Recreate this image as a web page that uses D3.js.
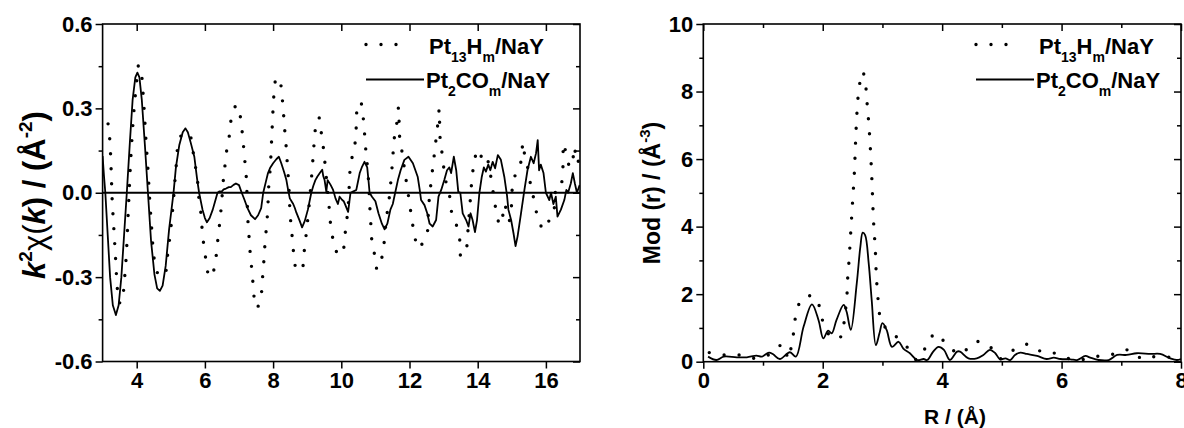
<!DOCTYPE html>
<html lang="en">
<head>
<meta charset="UTF-8">
<title>Pt13Hm/NaY vs Pt2COm/NaY EXAFS</title>
<script src="https://d3js.org/d3.v7.min.js"></script>
<style>
  body { margin: 0; background: #fff; }
  svg text { font-family: "Liberation Sans", Arial, sans-serif; font-weight: bold; fill: #000; }
</style>
</head>
<body>
<svg id="chart" width="1184" height="428"></svg>
<script>
// ---- left panel: k^2 chi(k) ----
const kPt13 = [3.16,3.21,3.25,3.28,3.33,3.38,3.43,3.48,3.58,3.62,3.69,3.75,3.81,3.86,3.92,4.0,4.04,4.12,4.16,4.22,4.27,4.33,4.38,4.44,4.51,4.61,4.73,4.85,4.9,5.0,5.08,5.15,5.25,5.4,5.55,5.64,5.71,5.78,5.81,5.88,5.94,6.0,6.05,6.14,6.3,6.34,6.39,6.44,6.48,6.55,6.6,6.65,6.73,6.78,6.93,7.04,7.09,7.13,7.17,7.21,7.23,7.26,7.29,7.32,7.36,7.4,7.43,7.51,7.64,7.67,7.71,7.74,7.77,7.81,7.84,7.86,7.88,7.92,7.94,7.96,7.98,8.0,8.03,8.1,8.2,8.26,8.3,8.33,8.37,8.4,8.43,8.46,8.5,8.54,8.58,8.62,8.7,8.84,8.9,9.0,9.12,9.22,9.27,9.34,9.41,9.47,9.64,9.73,9.83,9.89,10.04,10.1,10.2,10.28,10.38,10.45,10.47,10.56,10.64,10.71,10.79,10.86,10.93,10.99,11.05,11.14,11.23,11.32,11.41,11.49,11.56,11.62,11.68,11.71,11.78,11.88,12.01,12.07,12.15,12.24,12.31,12.49,12.56,12.6,12.65,12.7,12.75,12.8,12.85,12.87,12.9,12.96,13.05,13.2,13.25,13.39,13.48,13.51,13.67,13.71,13.78,13.85,13.92,13.98,14.1,14.22,14.35,14.47,14.55,14.65,14.72,14.8,14.86,14.92,14.98,15.05,15.15,15.25,15.33,15.37,15.45,15.55,15.61,15.7,15.8,15.9,16.02,16.12,16.22,16.32,16.42,16.49,16.52,16.59,16.63,16.7,16.78,16.83,16.88,16.93,16.98];
const chiPt13 = [0.245,0.19,0.084,-0.023,-0.128,-0.232,-0.338,-0.39,-0.39,-0.338,-0.232,-0.075,0.084,0.19,0.294,0.397,0.45,0.45,0.397,0.294,0.19,0.084,-0.023,-0.128,-0.232,-0.285,-0.3,-0.281,-0.228,-0.128,-0.023,0.084,0.19,0.215,0.207,0.155,0.102,0.049,-0.005,-0.07,-0.16,-0.21,-0.26,-0.302,-0.26,-0.21,-0.155,-0.1,-0.05,0.057,0.108,0.16,0.213,0.267,0.312,0.27,0.22,0.17,0.115,0.062,0.01,-0.095,-0.148,-0.202,-0.254,-0.306,-0.358,-0.41,-0.38,-0.33,-0.275,-0.222,-0.168,-0.117,-0.065,-0.012,0.04,0.092,0.144,0.197,0.249,0.3,0.355,0.41,0.396,0.344,0.292,0.238,0.185,0.134,0.08,0.028,-0.077,-0.131,-0.183,-0.236,-0.276,-0.273,-0.22,-0.114,0.044,0.2,0.253,0.268,0.216,0.164,-0.047,-0.152,-0.184,-0.222,-0.208,-0.157,-0.05,0.107,0.154,0.259,0.312,0.323,0.269,0.164,0.058,-0.1,-0.204,-0.222,-0.273,-0.253,-0.202,-0.095,-0.014,0.093,0.2,0.241,0.304,0.2,0.146,0.062,-0.044,-0.097,-0.15,-0.198,-0.19,-0.16,-0.05,0.0,0.057,0.107,0.16,0.214,0.266,0.297,0.19,0.136,0.05,-0.026,-0.08,-0.12,-0.174,-0.228,-0.195,-0.141,-0.03,0.07,0.12,0.154,0.13,0.142,0.08,-0.011,-0.07,-0.115,-0.09,-0.04,-0.09,-0.1,-0.06,0.05,0.07,0.1,0.178,0.14,0.1,0.03,0.0,-0.06,-0.094,-0.127,-0.127,-0.085,-0.07,0.021,0.021,0.069,0.176,0.14,0.125,0.09,0.11,0.164,0.128,0.104,0.14];

const kPt2 = [3.0,3.04,3.08,3.15,3.22,3.3,3.39,3.47,3.55,3.63,3.71,3.8,3.88,3.96,4.02,4.08,4.15,4.24,4.33,4.42,4.52,4.6,4.68,4.76,4.85,4.95,5.08,5.15,5.25,5.35,5.43,5.5,5.58,5.69,5.77,5.83,5.93,6.0,6.06,6.14,6.23,6.3,6.37,6.43,6.49,6.55,6.62,6.7,6.76,6.84,6.91,7.0,7.08,7.16,7.25,7.35,7.47,7.56,7.65,7.71,7.78,7.85,7.92,8.0,8.1,8.17,8.24,8.32,8.39,8.44,8.49,8.54,8.59,8.64,8.68,8.78,8.85,8.93,9.02,9.12,9.18,9.24,9.3,9.37,9.44,9.47,9.51,9.56,9.6,9.65,9.69,9.76,9.83,9.9,9.95,10.02,10.07,10.12,10.2,10.27,10.34,10.44,10.49,10.54,10.6,10.68,10.76,10.8,10.83,10.9,11.0,11.09,11.19,11.27,11.35,11.44,11.51,11.58,11.66,11.74,11.85,11.97,12.1,12.24,12.3,12.34,12.44,12.52,12.59,12.68,12.78,12.85,12.93,13.02,13.1,13.17,13.22,13.3,13.37,13.43,13.49,13.56,13.66,13.73,13.79,13.85,13.92,13.98,14.05,14.12,14.18,14.24,14.31,14.37,14.44,14.51,14.59,14.68,14.78,14.86,14.9,14.98,15.05,15.11,15.17,15.27,15.37,15.46,15.56,15.64,15.71,15.76,15.8,15.85,15.93,16.0,16.1,16.15,16.22,16.29,16.34,16.44,16.54,16.6,16.65,16.73,16.79,16.85,16.91,16.99];
const chiPt2 = [0.13,0.06,0.0,-0.15,-0.3,-0.4,-0.435,-0.4,-0.3,-0.15,0.0,0.18,0.33,0.41,0.427,0.41,0.33,0.17,0.0,-0.17,-0.29,-0.34,-0.349,-0.33,-0.26,-0.13,0.0,0.09,0.17,0.215,0.229,0.215,0.18,0.128,0.05,0.0,-0.06,-0.09,-0.105,-0.09,-0.06,-0.03,0.0,0.005,0.004,0.012,0.015,0.02,0.02,0.028,0.033,0.027,0.0,-0.025,-0.055,-0.08,-0.094,-0.08,-0.055,0.0,0.035,0.07,0.09,0.105,0.12,0.128,0.105,0.075,0.045,0.01,-0.02,-0.03,-0.04,-0.055,-0.07,-0.1,-0.123,-0.1,-0.06,0.0,0.025,0.045,0.058,0.07,0.082,0.06,0.045,0.004,0.045,0.035,0.027,0.01,-0.02,-0.04,-0.014,-0.025,-0.03,-0.044,-0.068,0.0,0.004,0.01,0.04,0.07,0.09,0.11,0.09,0.04,0.0,-0.014,-0.03,-0.073,-0.11,-0.13,-0.11,-0.06,-0.04,0.0,0.045,0.08,0.117,0.128,0.105,0.057,0.01,-0.026,-0.044,-0.073,-0.11,-0.12,-0.097,-0.014,0.01,0.045,0.08,0.09,0.07,0.128,0.08,0.004,0.0,-0.073,-0.097,-0.12,-0.073,-0.097,-0.14,-0.097,0.0,0.057,0.09,0.075,0.1,0.08,0.11,0.087,0.134,0.117,0.057,-0.01,-0.06,-0.097,-0.144,-0.19,-0.155,-0.073,0.01,0.08,0.128,0.105,0.14,0.187,0.08,0.1,0.07,0.0,-0.026,0.0,-0.04,-0.014,-0.085,-0.06,-0.026,0.01,0.0,0.033,0.07,0.033,0.0,0.027];

// ---- right panel: Fourier transform magnitude ----
const rPt13 = [0.1,0.35,0.6,0.84,1.09,1.34,1.42,1.48,1.52,1.55,1.64,1.76,1.88,1.97,2.03,2.19,2.33,2.36,2.39,2.41,2.42,2.44,2.47,2.5,2.53,2.56,2.59,2.62,2.67,2.72,2.74,2.78,2.82,2.85,2.88,2.9,2.92,2.94,2.99,3.17,3.4,3.58,3.73,3.89,4.09,4.31,4.54,4.77,4.97,5.2,5.45,5.68,5.89,6.15,6.4,6.65,6.89,7.13,7.36,7.61,7.86,8.0];
const ftPt13 = [0.27,0.2,0.2,0.1,0.2,0.51,0.08,0.51,0.96,1.38,1.83,1.95,1.9,1.45,1.02,0.67,0.79,1.23,1.66,2.09,2.54,2.98,3.86,4.74,5.61,6.92,7.8,8.24,8.59,8.16,7.72,6.84,5.53,4.2,3.34,2.46,2.02,1.58,1.14,0.84,0.46,0.05,0.44,0.84,0.48,0.23,0.59,0.5,0.09,0.35,0.52,0.28,0.25,0.08,0.07,0.18,0.23,0.35,0.08,0.17,0.12,0.1];

const rPt2 = [0.08,0.22,0.34,0.56,0.73,0.89,0.98,1.1,1.17,1.28,1.45,1.55,1.68,1.82,1.93,2.01,2.09,2.15,2.23,2.35,2.4,2.47,2.57,2.63,2.67,2.71,2.77,2.82,2.89,2.95,3.0,3.07,3.16,3.27,3.35,3.46,3.58,3.69,3.75,3.85,3.94,4.03,4.13,4.25,4.3,4.44,4.58,4.69,4.8,4.89,4.97,5.06,5.14,5.22,5.31,5.42,5.59,5.75,5.87,5.98,6.15,6.26,6.4,6.48,6.62,6.79,6.93,7.09,7.26,7.49,7.65,7.82,7.93,8.0];
const ftPt2 = [0.15,0.05,0.15,0.13,0.13,0.18,0.15,0.27,0.22,0.08,0.28,0.15,1.04,1.7,1.23,0.69,0.92,0.84,1.23,1.68,1.48,0.94,2.32,3.4,3.82,3.75,2.91,1.83,0.49,0.84,1.14,0.94,0.44,0.59,0.39,0.25,0.05,0.08,0.05,0.3,0.44,0.35,0.05,0.3,0.3,0.1,0.1,0.2,0.35,0.25,0.07,0.1,0.05,0.2,0.27,0.23,0.17,0.08,0.12,0.08,0.07,0.05,0.17,0.12,0.05,0.05,0.2,0.2,0.25,0.23,0.23,0.1,0.05,0.08];

const leftXTicks = [4, 6, 8, 10, 12, 14, 16];
const leftYTicks = [-0.6, -0.3, 0.0, 0.3, 0.6];
const leftYMinor = [-0.45, -0.15, 0.15, 0.45];
const rightXTicks = [0, 2, 4, 6, 8];
const rightXMinor = [1, 3, 5, 7];
const rightYTicks = [0, 2, 4, 6, 8, 10];
const rightYMinor = [1, 3, 5, 7, 9];

const svg = d3.select("#chart");
svg.append("rect").attr("width", 1184).attr("height", 428).attr("fill", "#fff");

function drawPanel(p) {
  const x = d3.scaleLinear().domain(p.xDomain).range(p.xRange);
  const y = d3.scaleLinear().domain(p.yDomain).range(p.yRange);
  const [x0, x1] = p.xRange, [y0, y1] = [p.yRange[1], p.yRange[0]];
  const g = svg.append("g");

  const clipId = "clip-" + p.id;
  g.append("clipPath").attr("id", clipId)
    .append("rect").attr("x", x0).attr("y", y0).attr("width", x1 - x0).attr("height", y1 - y0);

  const plot = g.append("g").attr("clip-path", `url(#${clipId})`);

  if (p.zeroLine) {
    plot.append("line")
      .attr("x1", x0).attr("x2", x1).attr("y1", y(0)).attr("y2", y(0))
      .attr("stroke", "#000").attr("stroke-width", 1.8);
  }

  const line = d3.line().x(d => x(d[0])).y(d => y(d[1]));

  plot.append("path")
    .datum(d3.zip(p.dotX, p.dotY))
    .attr("d", line.curve(d3.curveCatmullRom.alpha(0.5)))
    .attr("fill", "none").attr("stroke", "#000")
    .attr("stroke-width", 3.4).attr("stroke-linecap", "round")
    .attr("stroke-dasharray", "0 15");

  plot.append("path")
    .datum(d3.zip(p.solidX, p.solidY))
    .attr("d", line.curve(p.solidCurve))
    .attr("fill", "none").attr("stroke", "#000")
    .attr("stroke-width", 1.8).attr("stroke-linejoin", "round");

  // axes: minor ticks then major ticks with labels; top/right mirror ticks
  const styleAxis = sel => {
    sel.select(".domain").remove();
    sel.selectAll("line").attr("stroke", "#000").attr("stroke-width", 1.5);
    sel.selectAll("text").style("font-size", "22px")
      .style("font-family", '"Liberation Sans", Arial, sans-serif').style("font-weight", "bold");
  };
  const fmt = p.fmt;

  g.append("g").attr("transform", `translate(0,${y1})`)
    .call(d3.axisBottom(x).tickValues(p.xMinor).tickSize(4).tickFormat("")).call(styleAxis);
  g.append("g").attr("transform", `translate(0,${y1})`)
    .call(d3.axisBottom(x).tickValues(p.xTicks).tickSize(7).tickPadding(4).tickFormat(d => d)).call(styleAxis);
  g.append("g").attr("transform", `translate(0,${y0})`)
    .call(d3.axisBottom(x).tickValues(p.xMinor).tickSize(4).tickFormat("")).call(styleAxis);
  g.append("g").attr("transform", `translate(0,${y0})`)
    .call(d3.axisBottom(x).tickValues(p.xTicks).tickSize(7).tickFormat("")).call(styleAxis);

  g.append("g").attr("transform", `translate(${x0},0)`)
    .call(d3.axisLeft(y).tickValues(p.yMinor).tickSize(4).tickFormat("")).call(styleAxis);
  g.append("g").attr("transform", `translate(${x0},0)`)
    .call(d3.axisLeft(y).tickValues(p.yTicks).tickSize(7).tickPadding(3).tickFormat(fmt)).call(styleAxis);
  g.append("g").attr("transform", `translate(${x1},0)`)
    .call(d3.axisLeft(y).tickValues(p.yMinor).tickSize(4).tickFormat("")).call(styleAxis);
  g.append("g").attr("transform", `translate(${x1},0)`)
    .call(d3.axisLeft(y).tickValues(p.yTicks).tickSize(7).tickFormat("")).call(styleAxis);

  g.append("rect").attr("x", x0).attr("y", y0).attr("width", x1 - x0).attr("height", y1 - y0)
    .attr("fill", "none").attr("stroke", "#000").attr("stroke-width", 1.6);

  // legend
  const lg = g.append("g");
  lg.append("line").attr("x1", p.legX).attr("x2", p.legX + 45).attr("y1", 44.5).attr("y2", 44.5)
    .attr("stroke", "#000").attr("stroke-width", 3.4).attr("stroke-linecap", "round")
    .attr("stroke-dasharray", "0 15");
  lg.append("line").attr("x1", p.legX).attr("x2", p.legX + 58).attr("y1", 79.5).attr("y2", 79.5)
    .attr("stroke", "#000").attr("stroke-width", 1.8);
  const t1 = lg.append("text").attr("x", p.legX + 63).attr("y", 53.5).style("font-size", "22px");
  t1.append("tspan").text("Pt");
  t1.append("tspan").attr("dy", 8).style("font-size", "14px").text("13");
  t1.append("tspan").attr("dy", -8).text("H");
  t1.append("tspan").attr("dy", 8).style("font-size", "14px").text("m");
  t1.append("tspan").attr("dy", -8).text("/NaY");
  const t2 = lg.append("text").attr("x", p.legX + 60).attr("y", 87.5).style("font-size", "22px");
  t2.append("tspan").text("Pt");
  t2.append("tspan").attr("dy", 8).style("font-size", "14px").text("2");
  t2.append("tspan").attr("dy", -8).text("CO");
  t2.append("tspan").attr("dy", 8).style("font-size", "14px").text("m");
  t2.append("tspan").attr("dy", -8).text("/NaY");
  return g;
}

drawPanel({
  id: "chi",
  xDomain: [3, 17], xRange: [102.6, 580],
  yDomain: [-0.6, 0.6], yRange: [361.5, 24],
  xTicks: leftXTicks, xMinor: [], yTicks: leftYTicks, yMinor: leftYMinor,
  fmt: d => d.toFixed(1),
  dotX: kPt13, dotY: chiPt13, solidX: kPt2, solidY: chiPt2,
  solidCurve: d3.curveLinear, zeroLine: true, legX: 366
});

drawPanel({
  id: "ft",
  xDomain: [0, 8], xRange: [703.3, 1181],
  yDomain: [0, 10], yRange: [361.7, 24],
  xTicks: rightXTicks, xMinor: rightXMinor, yTicks: rightYTicks, yMinor: rightYMinor,
  fmt: d => d,
  dotX: rPt13, dotY: ftPt13, solidX: rPt2, solidY: ftPt2,
  solidCurve: d3.curveCatmullRom.alpha(0.5), zeroLine: false, legX: 976
});

// axis titles
const yt1 = svg.append("text").attr("transform", "translate(45,195) rotate(-90)")
  .attr("text-anchor", "middle").style("font-size", "31px");
yt1.append("tspan").style("font-style", "italic").text("k");
yt1.append("tspan").attr("dy", -13).style("font-size", "19px").text("2");
yt1.append("tspan").attr("dy", 13).style("font-weight", "normal").text("χ(");
yt1.append("tspan").style("font-style", "italic").text("k");
yt1.append("tspan").text(") / (Å");
yt1.append("tspan").attr("dy", -13).style("font-size", "19px").text("-2");
yt1.append("tspan").attr("dy", 13).text(")");

const yt2 = svg.append("text").attr("transform", "translate(660,193) rotate(-90)")
  .attr("text-anchor", "middle").style("font-size", "23px");
yt2.append("tspan").text("Mod (r) / (Å");
yt2.append("tspan").attr("dy", -10).style("font-size", "15px").text("-3");
yt2.append("tspan").attr("dy", 10).text(")");

svg.append("text").attr("x", 955).attr("y", 424).attr("text-anchor", "middle")
  .style("font-size", "21px").text("R / (Å)");
</script>
</body>
</html>
